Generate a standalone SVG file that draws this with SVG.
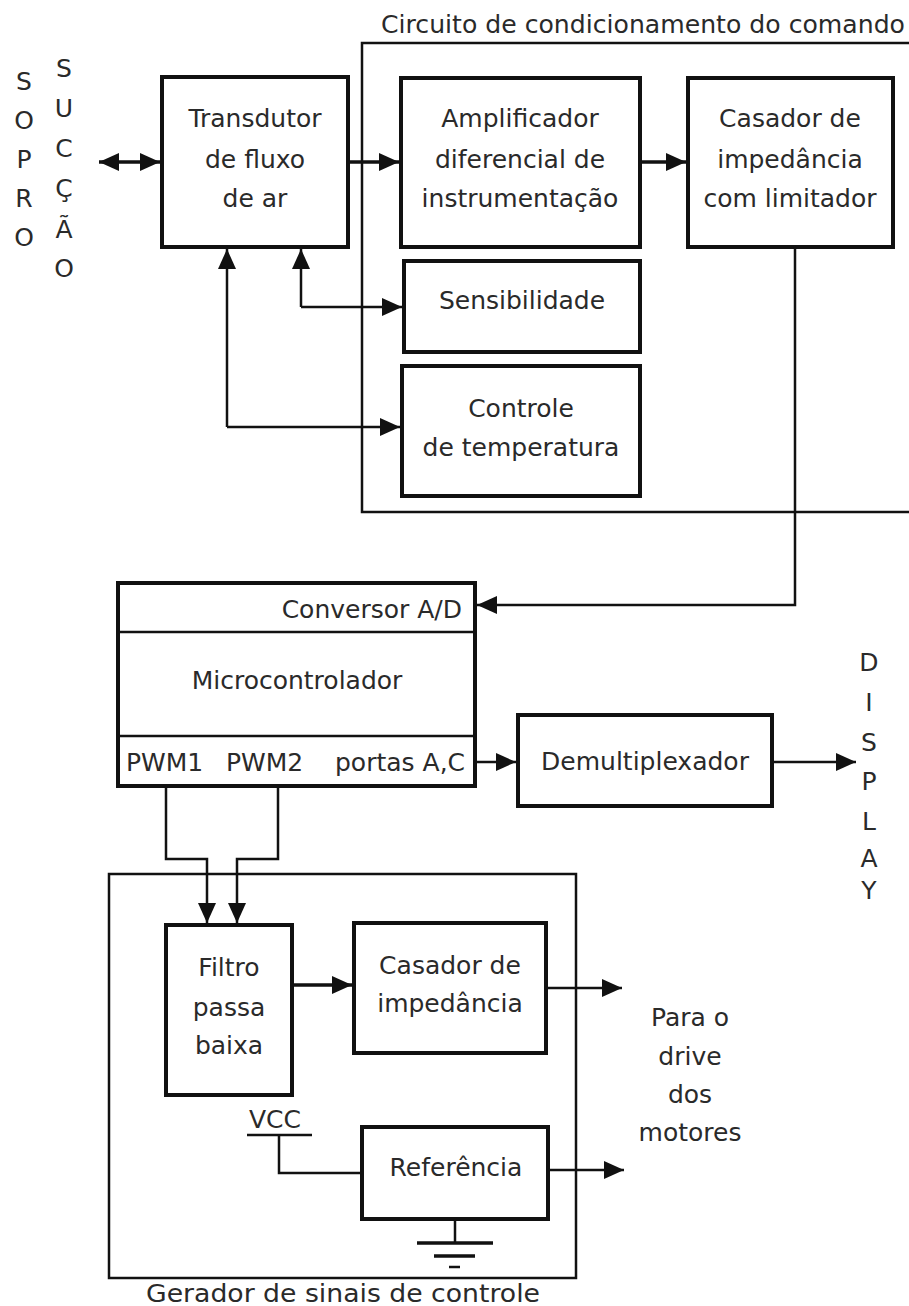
<svg xmlns="http://www.w3.org/2000/svg" width="909" height="1306" viewBox="0 0 909 1306">
<style>
.bg{fill:#fff}
.box{fill:#fff;stroke:#111;stroke-width:4}
.cont{fill:none;stroke:#111;stroke-width:2.5}
.ln{fill:none;stroke:#111;stroke-width:2.5}
.lnb{fill:none;stroke:#111;stroke-width:3.5}
text{font-family:"DejaVu Sans","Liberation Sans",sans-serif;font-size:25px;fill:#2a2a2a}
.c{text-anchor:middle}
.e{text-anchor:end}
</style>
<defs>
<marker id="ah" markerUnits="userSpaceOnUse" markerWidth="22" markerHeight="20" refX="20" refY="9" orient="auto-start-reverse">
<path d="M0,0 L20,9 L0,18 z" fill="#111"/>
</marker>
</defs>
<rect class="bg" x="0" y="0" width="909" height="1306"/>

<g id="labels-air">
<text class="c" x="24" y="90">S</text>
<text class="c" x="24" y="129">O</text>
<text class="c" x="24" y="168">P</text>
<text class="c" x="24" y="207">R</text>
<text class="c" x="24" y="246">O</text>
<text class="c" x="64" y="77">S</text>
<text class="c" x="64" y="117">U</text>
<text class="c" x="64" y="157">C</text>
<text class="c" x="64" y="197">Ç</text>
<text class="c" x="64" y="238">Ã</text>
<text class="c" x="64" y="277">O</text>
</g>

<g id="circuito-condicionamento">
<path class="cont" d="M909,43 H362 V512 H909"/>
<text x="381" y="33" font-size="23" textLength="524" lengthAdjust="spacingAndGlyphs">Circuito de condicionamento do comando</text>
</g>

<g id="transdutor">
<rect class="box" x="162" y="77" width="186" height="170"/>
<text class="c" x="255" y="127">Transdutor</text>
<text class="c" x="255" y="168">de fluxo</text>
<text class="c" x="255" y="207">de ar</text>
</g>

<g id="amplificador">
<rect class="box" x="401" y="78" width="239" height="169"/>
<text class="c" x="520" y="127">Amplificador</text>
<text class="c" x="520" y="168">diferencial de</text>
<text class="c" x="520" y="207">instrumentação</text>
</g>

<g id="casador-limitador">
<rect class="box" x="688" y="78" width="205" height="169"/>
<text class="c" x="790" y="127">Casador de</text>
<text class="c" x="790" y="168">impedância</text>
<text class="c" x="790" y="207">com limitador</text>
</g>

<g id="sensibilidade">
<rect class="box" x="404" y="261" width="236" height="91"/>
<text class="c" x="522" y="309">Sensibilidade</text>
</g>

<g id="controle-temperatura">
<rect class="box" x="402" y="366" width="238" height="130"/>
<text class="c" x="521" y="417">Controle</text>
<text class="c" x="521" y="456">de temperatura</text>
</g>

<g id="microcontrolador">
<rect class="box" x="118" y="583" width="357" height="203"/>
<line class="ln" x1="118" y1="632" x2="475" y2="632"/>
<line class="ln" x1="118" y1="736" x2="475" y2="736"/>
<text class="e" x="462" y="618">Conversor A/D</text>
<text class="c" x="297" y="689">Microcontrolador</text>
<text x="126" y="771">PWM1</text>
<text x="226" y="771">PWM2</text>
<text x="335" y="771">portas A,C</text>
</g>

<g id="demultiplexador">
<rect class="box" x="518" y="715" width="254" height="91"/>
<text class="c" x="645" y="770">Demultiplexador</text>
</g>

<g id="labels-display">
<text class="c" x="869" y="671">D</text>
<text class="c" x="869" y="711">I</text>
<text class="c" x="869" y="751">S</text>
<text class="c" x="869" y="790">P</text>
<text class="c" x="869" y="830">L</text>
<text class="c" x="869" y="867">A</text>
<text class="c" x="869" y="899">Y</text>
</g>

<g id="gerador-sinais">
<rect class="cont" x="109" y="874" width="467" height="404" stroke-width="3"/>
<text class="c" x="343" y="1302" textLength="394" lengthAdjust="spacingAndGlyphs">Gerador de sinais de controle</text>
</g>

<g id="filtro">
<rect class="box" x="166" y="925" width="126" height="170"/>
<text class="c" x="229" y="976">Filtro</text>
<text class="c" x="229" y="1016">passa</text>
<text class="c" x="229" y="1054">baixa</text>
</g>

<g id="casador-impedancia">
<rect class="box" x="354" y="923" width="192" height="130"/>
<text class="c" x="450" y="974">Casador de</text>
<text class="c" x="450" y="1012">impedância</text>
</g>

<g id="referencia">
<rect class="box" x="362" y="1127" width="186" height="92"/>
<text class="c" x="456" y="1176">Referência</text>
</g>

<g id="vcc">
<text x="249" y="1128">VCC</text>
<line class="ln" x1="247" y1="1135" x2="312" y2="1135"/>
</g>

<g id="ground">
<line class="ln" x1="455" y1="1219" x2="455" y2="1243"/>
<line class="lnb" x1="417" y1="1243" x2="493" y2="1243"/>
<line class="lnb" x1="434" y1="1256" x2="475" y2="1256"/>
<line class="ln" x1="449" y1="1267" x2="460" y2="1267" stroke-width="1.5"/>
</g>

<g id="label-drive">
<text class="c" x="690" y="1026">Para o</text>
<text class="c" x="690" y="1065">drive</text>
<text class="c" x="690" y="1103">dos</text>
<text class="c" x="690" y="1141">motores</text>
</g>

<g id="connectors">
<line class="lnb" x1="99" y1="162" x2="160" y2="162" marker-start="url(#ah)" marker-end="url(#ah)"/>
<line class="lnb" x1="348" y1="162" x2="399" y2="162" marker-end="url(#ah)"/>
<line class="lnb" x1="640" y1="162" x2="686" y2="162" marker-end="url(#ah)"/>
<path class="ln" d="M301,307 V249" marker-end="url(#ah)"/>
<path class="ln" d="M301,307 H402" marker-end="url(#ah)"/>
<path class="ln" d="M227,427 V249" marker-end="url(#ah)"/>
<path class="ln" d="M227,427 H400" marker-end="url(#ah)"/>
<path class="ln" d="M795,247 V605 H477" marker-end="url(#ah)"/>
<path class="ln" d="M475,762 H516" marker-end="url(#ah)"/>
<path class="ln" d="M772,762 H856" marker-end="url(#ah)"/>
<path class="ln" d="M166,786 V859 H207 V923" marker-end="url(#ah)"/>
<path class="ln" d="M278,786 V859 H237 V923" marker-end="url(#ah)"/>
<path class="lnb" d="M292,985 H352" marker-end="url(#ah)"/>
<path class="ln" d="M546,988 H622" marker-end="url(#ah)"/>
<path class="ln" d="M279,1135 V1173 H362"/>
<path class="ln" d="M548,1170 H624" marker-end="url(#ah)"/>
</g>
</svg>
